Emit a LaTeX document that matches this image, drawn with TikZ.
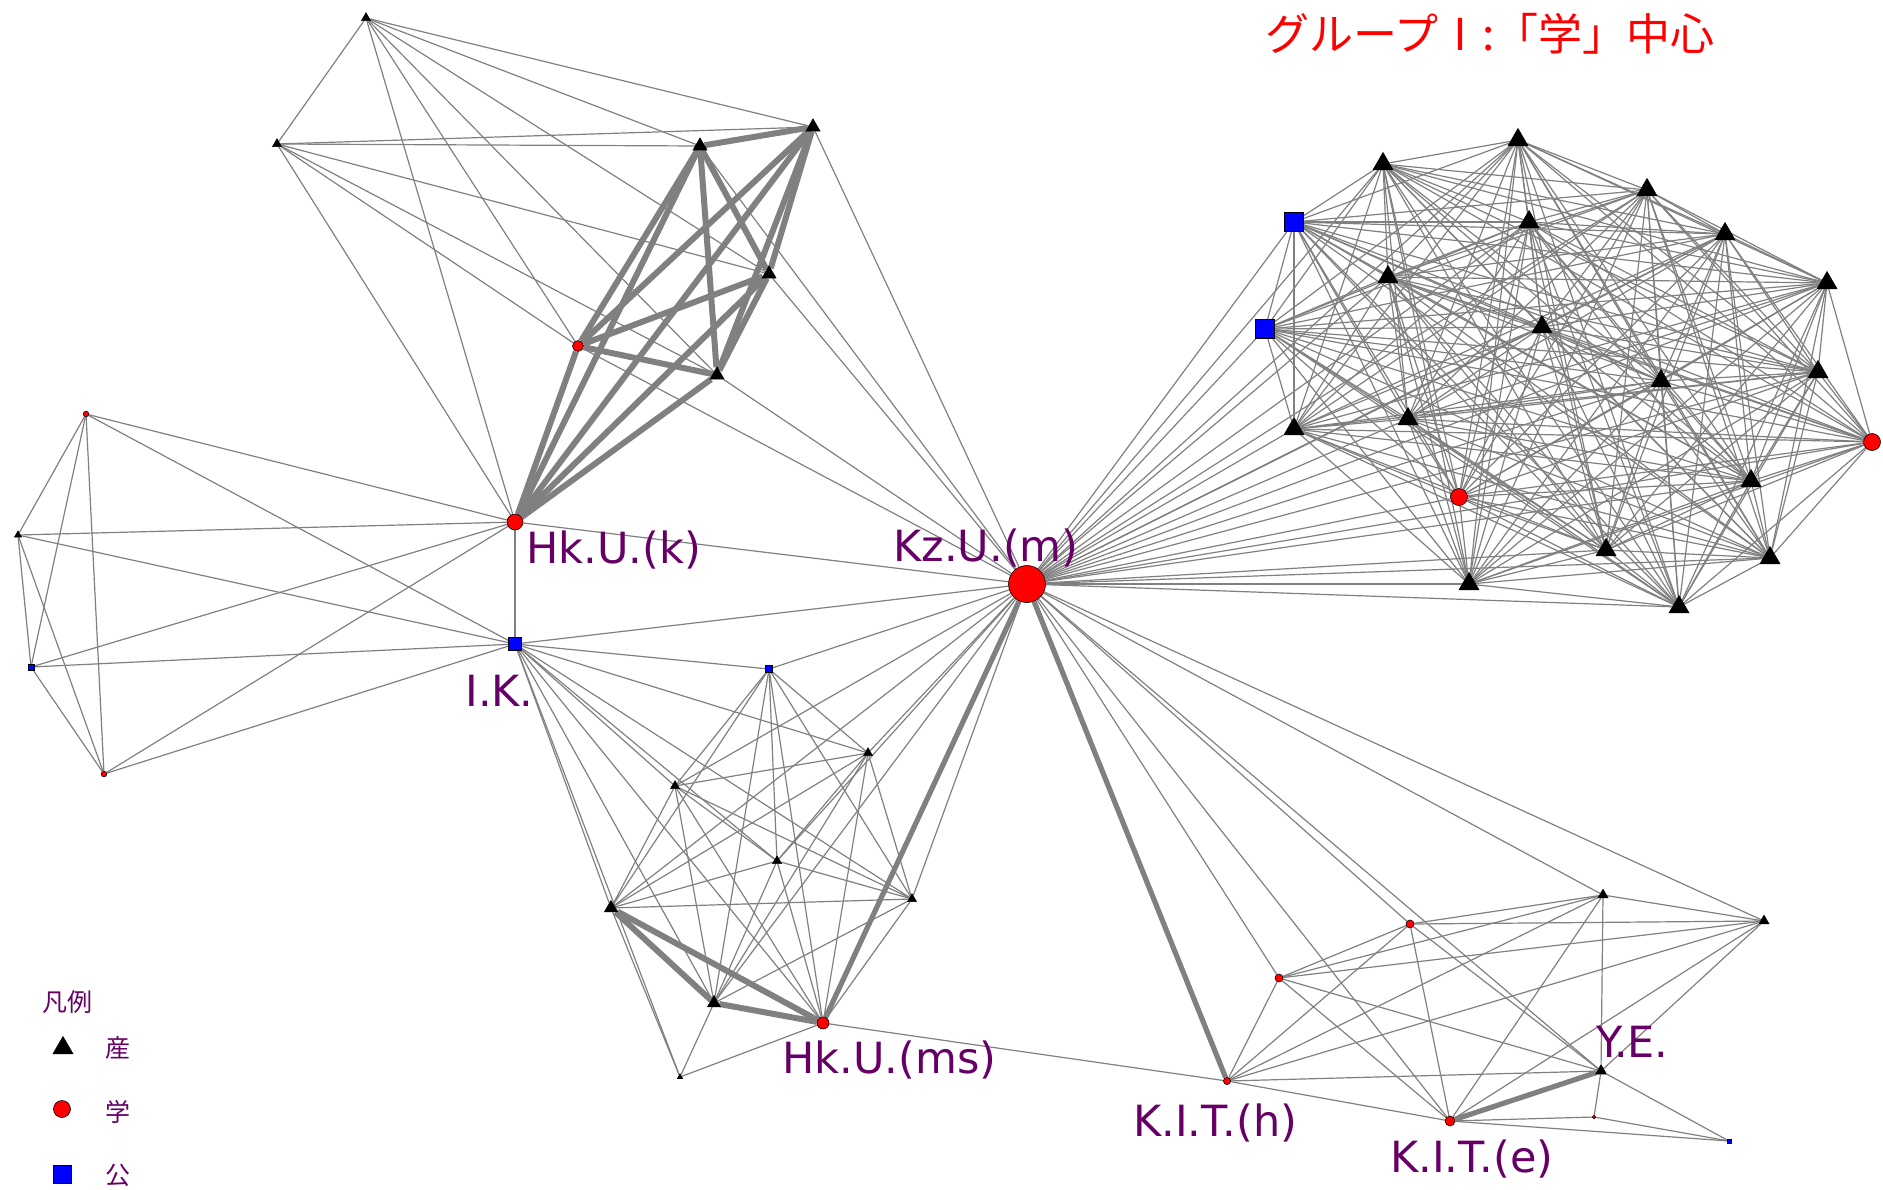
\documentclass[tikz,border=0pt]{standalone}
\usepackage{fontspec}
\usetikzlibrary{shapes.geometric}
\newfontfamily\labfont{DejaVu Sans}
\newfontfamily\cjkfont{Noto Sans CJK JP}
\definecolor{edgegray}{HTML}{808080}
\definecolor{labpurple}{HTML}{660066}
\pgfdeclarelayer{bg}
\pgfsetlayers{bg,main}
\begin{document}
\begin{tikzpicture}[x=0.5pt,y=-0.5pt,
  btri/.style={regular polygon,regular polygon sides=3,fill=black,draw=black,line width=0.3pt,inner sep=0pt,minimum size=#1},
  rdot/.style={circle,fill=red,draw=black,line width=0.3pt,inner sep=0pt,minimum size=#1},
  bsq/.style={rectangle,fill=blue,draw=black,line width=0.3pt,inner sep=0pt,minimum size=#1},
  lnk/.style={draw=edgegray,line width=0.6pt},
  thk/.style={draw=edgegray,line width=3pt},
  mthk/.style={draw=edgegray,line width=2.6pt},
  nlab/.style={text=labpurple,font=\labfont\fontsize{21.5}{21.5}\selectfont,anchor=base west,inner sep=0pt},
  leg/.style={text=labpurple,font=\cjkfont\fontsize{12.5}{12.5}\selectfont,inner sep=0pt},
]
\useasboundingbox (0,0) rectangle (1883,1189);

% ---------- hub nodes
\node[rdot=18.5pt] (KzU) at (1027,584) {};
\node[rdot=8pt] (HkUk) at (515,522) {};
\node[bsq=6.3pt] (IK) at (515,644) {};
\node[rdot=6pt] (HkUms) at (823,1023) {};
\node[rdot=3.6pt] (KITh) at (1227,1081) {};
\node[rdot=5pt] (KITe) at (1450,1121) {};
\node[btri=6.3pt] (YE) at (1601,1071) {};

% ---------- top-left cluster
\node[btri=5.2pt] (A1) at (366,18) {};
\node[btri=5.2pt] (A2) at (277,144) {};
\node[btri=8.1pt] (A3) at (700,146) {};
\node[btri=8.1pt] (A4) at (813,127) {};
\node[btri=8.1pt] (A5) at (769,274) {};
\node[rdot=5.5pt] (A6) at (578,346) {};
\node[btri=8.1pt] (A7) at (717,375) {};

% ---------- left cluster
\node[rdot=2.8pt] (L1) at (86,414) {};
\node[btri=4pt] (L2) at (18,535) {};
\node[bsq=3pt] (L3) at (31,667) {};
\node[rdot=2.8pt] (L4) at (104,774) {};

% ---------- bottom-middle cluster
\node[bsq=3.6pt] (B1) at (769,669) {};
\node[btri=5.2pt] (B2) at (868,753) {};
\node[btri=5.2pt] (B3) at (675,786) {};
\node[btri=5.2pt] (B4) at (777,861) {};
\node[btri=5.2pt] (B5) at (912,899) {};
\node[btri=7.5pt] (B6) at (611,908) {};
\node[btri=7.5pt] (B7) at (714,1003) {};
\node[btri=3pt] (B8) at (680,1077) {};

% ---------- bottom-right cluster
\node[rdot=4pt] (C1) at (1279,978) {};
\node[rdot=4pt] (C2) at (1410,924) {};
\node[btri=5.8pt] (C3) at (1603,895) {};
\node[btri=5.8pt] (C4) at (1764,921) {};
\node[rdot=1.8pt] (C5) at (1594,1117) {};
\node[bsq=2pt] (C6) at (1729,1141) {};

% ---------- top-right cluster
\node[btri=11.5pt] (D1) at (1518,140) {};
\node[btri=11.5pt] (D2) at (1383,164) {};
\node[btri=11.5pt] (D3) at (1647,190) {};
\node[bsq=9.5pt] (D4) at (1294,222) {};
\node[btri=11.5pt] (D5) at (1529,222) {};
\node[btri=11.5pt] (D6) at (1725,234) {};
\node[btri=11.5pt] (D7) at (1388,277) {};
\node[btri=11.5pt] (D8) at (1827,283) {};
\node[bsq=9.5pt] (D9) at (1265,329) {};
\node[btri=11.5pt] (D10) at (1542,327) {};
\node[btri=11.5pt] (D11) at (1818,372) {};
\node[btri=11.5pt] (D12) at (1661,381) {};
\node[btri=11.5pt] (D13) at (1408,419) {};
\node[btri=11.5pt] (D14) at (1294,429) {};
\node[rdot=8.5pt] (D15) at (1872,442) {};
\node[btri=11.5pt] (D16) at (1751,481) {};
\node[rdot=8.5pt] (D17) at (1459,497) {};
\node[btri=11.5pt] (D18) at (1606,550) {};
\node[btri=11.5pt] (D19) at (1770,558) {};
\node[btri=11.5pt] (D20) at (1469,584) {};
\node[btri=11.5pt] (D21) at (1679,607) {};

% ---------- edges
\begin{pgfonlayer}{bg}
% top-left
\foreach \a/\b in {A1/A2,A1/A3,A1/A4,A1/A5,A1/A6,A1/A7,A1/HkUk,
  A2/A3,A2/A4,A2/A5,A2/A6,A2/A7,A2/HkUk,
  A3/KzU,A4/KzU,A5/KzU,A6/KzU,A7/KzU}
  \draw[lnk] (\a) -- (\b);
\foreach \a/\b in {A3/A4,A3/A5,A3/A6,A3/A7,A3/HkUk,A4/A5,A4/A6,A4/A7,A4/HkUk,
  A5/A6,A5/A7,A5/HkUk,A6/A7,A6/HkUk,A7/HkUk}
  \draw[thk] (\a) -- (\b);
% left
\foreach \a/\b in {L1/L2,L1/L3,L1/L4,L1/HkUk,L1/IK,L2/L3,L2/L4,L2/HkUk,L2/IK,
  L3/L4,L3/HkUk,L3/IK,L4/HkUk,L4/IK,HkUk/IK,HkUk/KzU,IK/KzU}
  \draw[lnk] (\a) -- (\b);
% bottom-middle
\foreach \a/\b in {B1/B2,B1/B3,B1/B4,B1/B5,B1/B6,B1/B7,B1/HkUms,
  B2/B3,B2/B4,B2/B5,B2/B6,B2/B7,B2/HkUms,
  B3/B4,B3/B5,B3/B6,B3/B7,B3/HkUms,
  B4/B5,B4/B6,B4/B7,B4/HkUms,
  B5/B6,B5/B7,B5/HkUms,
  B8/B6,B8/B7,B8/HkUms,
  IK/B1,IK/B2,IK/B3,IK/B4,IK/B5,IK/B6,IK/B7,IK/B8,IK/HkUms,
  KzU/B1,KzU/B2,KzU/B3,KzU/B4,KzU/B5,KzU/B6,KzU/B7,
  HkUms/KITh}
  \draw[lnk] (\a) -- (\b);
\foreach \a/\b in {B6/B7,B6/HkUms,B7/HkUms}
  \draw[thk] (\a) -- (\b);
\draw[mthk] (KzU) -- (HkUms);
% bottom-right
\foreach \a/\b in {KITh/C1,KITh/C2,KITh/C3,KITh/C4,KITh/YE,KITh/KITe,
  C1/C2,C1/C3,C1/C4,C1/YE,C1/KITe,
  C2/C3,C2/C4,C2/YE,C2/KITe,
  C3/C4,C3/YE,C3/KITe,C4/YE,C4/KITe,
  YE/C5,YE/C6,KITe/C5,KITe/C6,C5/C6,
  KzU/C1,KzU/C2,KzU/C3,KzU/C4,KzU/YE,KzU/KITe}
  \draw[lnk] (\a) -- (\b);
\draw[mthk] (KzU) -- (KITh);
\draw[mthk] (YE) -- (KITe);
% top-right (complete)
\foreach \i in {1,...,20}{
  \pgfmathtruncatemacro{\nx}{\i+1}
  \foreach \j in {\nx,...,21}{\draw[lnk] (D\i) -- (D\j);}
}
\foreach \i in {1,...,21}{\draw[lnk] (KzU) -- (D\i);}
\end{pgfonlayer}

% ---------- labels
\node[nlab] (tHkUk) at (526,563) {Hk.U.(k)};
\node[nlab] (tKzU) at (893,561) {Kz.U.(m)};
\node[nlab] (tIK) at (465,706) {I.K.};
\node[nlab] (tHkUms) at (782,1073) {Hk.U.(ms)};
\node[nlab] (tKITh) at (1133,1136) {K.I.T.(h)};
\node[nlab] (tKITe) at (1390,1172) {K.I.T.(e)};
\node[nlab] (tYE) at (1596,1057) {Y.E.};

% ---------- title
\node[text=red,font=\cjkfont\fontsize{22}{22}\selectfont,inner sep=0pt] (title) at (1490,34) {グループⅠ:「学」中心};

% ---------- legend
\node[leg] (legt) at (67,1002) {凡例};
\node[btri=11.5pt] (lg1) at (63,1048) {};
\node[leg] (lg1t) at (118,1048) {産};
\node[rdot=8.5pt] (lg2) at (62,1109) {};
\node[leg] (lg2t) at (118,1112) {学};
\node[bsq=8.8pt] (lg3) at (62,1174) {};
\node[leg] (lg3t) at (118,1175) {公};
\end{tikzpicture}
\end{document}
